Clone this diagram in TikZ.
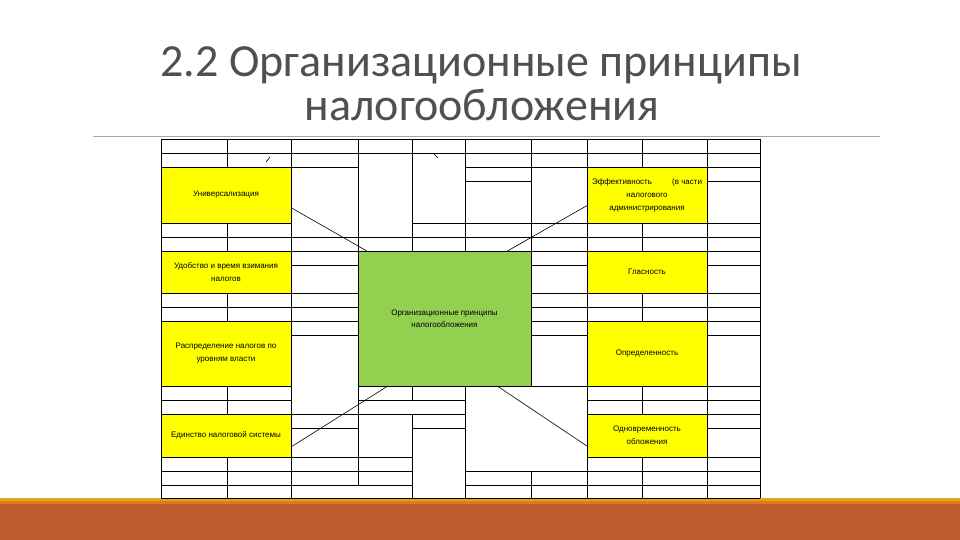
\documentclass[tikz,border=0pt]{standalone}
\usepackage{fontspec}
\setmainfont{Liberation Sans}
\newfontfamily\titlefont{Carlito}

\definecolor{cellyellow}{HTML}{FFFF00}
\definecolor{coregreen}{HTML}{92D050}
\definecolor{titlegray}{HTML}{505050}
\definecolor{rulegray}{HTML}{A6A6A6}
\definecolor{bandgold}{HTML}{E3A21A}
\definecolor{bandorange}{HTML}{DF7A22}
\definecolor{bandbrown}{HTML}{BE5B2C}

\tikzset{
  gridline/.style={draw=black, line width=0.9pt, line cap=rect},
  principle/.style={draw=black, line width=0.9pt, fill=cellyellow, inner sep=0pt, outer sep=0pt,
    align=center, font=\fontsize{8}{13}\selectfont},
  core/.style={principle, fill=coregreen, font=\fontsize{8}{12}\selectfont},
  link/.style={draw=black, line width=0.6pt},
  headline/.style={anchor=base, inner sep=0pt, text=titlegray, font=\titlefont\fontsize{46}{46}\selectfont},
}

\begin{document}
\begin{tikzpicture}[x=1pt, y=-1pt]
\useasboundingbox (0,0) rectangle (960,540);

% Title
\node[headline] (head1) at (481,77) {2.2 Организационные принципы};
\node[headline] (head2) at (482,121) {налогообложения};
\draw[draw=rulegray, line width=0.8pt] (93,136) -- (880,136);

% Bottom band
\fill[bandgold] (0,497.5) rectangle (960,500.5);
\fill[bandorange] (0,500.5) rectangle (960,504);
\fill[bandbrown] (0,504) rectangle (960,540);

% Table rows, column by column
\foreach \y in {139,153,167,223,237,251,293,307,321,386,400,414,457,471,485,498}
  \draw[gridline] (161,\y) -- (291,\y);
\foreach \y in {139,153,167,237,251,265,293,307,321,335,414,428,457,471,485,498}
  \draw[gridline] (291,\y) -- (358,\y);
\foreach \y in {139,153,237,251,386,400,414,457,471,485,498}
  \draw[gridline] (358,\y) -- (412,\y);
\foreach \y in {139,153,223,237,251,386,400,414,428,498}
  \draw[gridline] (412,\y) -- (465,\y);
\foreach \y in {139,153,167,181,223,237,251,386,471,485,498}
  \draw[gridline] (465,\y) -- (531,\y);
\foreach \y in {139,153,167,223,237,251,265,293,307,321,335,386,471,485,498}
  \draw[gridline] (531,\y) -- (587,\y);
\foreach \y in {139,153,167,223,237,251,293,307,321,386,400,414,457,471,485,498}
  \draw[gridline] (587,\y) -- (707,\y);
\foreach \y in {139,153,167,181,223,237,251,265,293,307,321,335,386,400,414,428,457,471,485,498}
  \draw[gridline] (707,\y) -- (760,\y);

% Table columns
\foreach \x/\a/\b in {161/139/498, 291/139/498, 587/139/498, 707/139/498, 760/139/498,
    358/139/485, 412/139/251, 412/386/400, 412/414/498, 465/139/251, 465/386/498,
    531/139/386, 531/471/498}
  \draw[gridline] (\x,\a) -- (\x,\b);
\foreach \x in {227,642}
  \foreach \a/\b in {139/167,223/251,293/321,386/414,457/498}
    \draw[gridline] (\x,\a) -- (\x,\b);

% stray marks
\draw[link] (266,162) -- (270,157);
\draw[link] (434,154) -- (438,158);

% Left principles
\node[principle, minimum width=130pt, minimum height=56pt] (univ) at (226,195) {Универсализация};
\node[principle, minimum width=130pt, minimum height=42pt] (udob) at (226,272) {Удобство и время взимания\\налогов};
\node[principle, minimum width=130pt, minimum height=65pt] (raspr) at (226,353.5) {Распределение налогов по\\уровням власти};
\node[principle, minimum width=130pt, minimum height=43pt] (edin) at (226,435.5) {Единство налоговой системы};

% Right principles
\node[principle, minimum width=120pt, minimum height=56pt] (eff) at (647,195)
  {\makebox[110pt]{Эффективность\hfill(в части}\\налогового\\администрирования};
\node[principle, minimum width=120pt, minimum height=42pt] (glas) at (647,272) {Гласность};
\node[principle, minimum width=120pt, minimum height=65pt] (opred) at (647,353.5) {Определенность};
\node[principle, minimum width=120pt, minimum height=43pt] (odnovr) at (647,435.5) {Одновременность\\обложения};

% Centre
\node[core, minimum width=173pt, minimum height=135pt] (org) at (444.5,318.5) {Организационные принципы\\налогообложения};

% Links
\draw[link] (univ.-11) -- (org.139);
\draw[link] (eff.190) -- (org.47);
\draw[link] (edin.-10) -- (org.230);
\draw[link] (odnovr.190) -- (org.-52);

\end{tikzpicture}
\end{document}
